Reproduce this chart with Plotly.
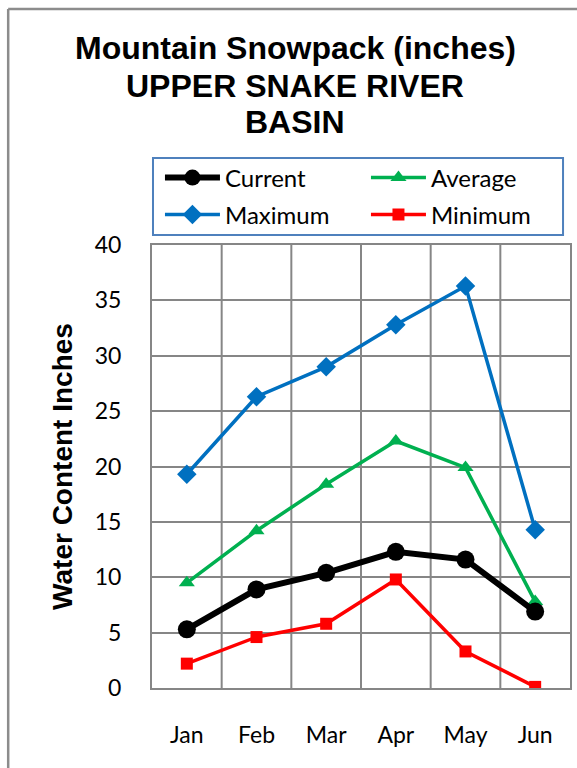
import plotly.graph_objects as go

# Monthly snowpack water content (inches), Upper Snake River Basin
months = ["Jan", "Feb", "Mar", "Apr", "May", "Jun"]
current = [5.3, 8.9, 10.4, 12.3, 11.6, 6.9]
average = [9.5, 14.2, 18.4, 22.3, 19.9, 7.8]
maximum = [19.3, 26.3, 29.0, 32.8, 36.3, 14.3]
minimum = [2.2, 4.6, 5.8, 9.8, 3.3, 0.1]
y_ticks = [0, 5, 10, 15, 20, 25, 30, 35, 40]
title_lines = ["Mountain Snowpack (inches)", "UPPER SNAKE RIVER", "BASIN"]

W, H = 577, 768
L, R, T, B = 152, 5, 245, 80
plot_w = W - L - R
plot_h = H - T - B

def px_x(x):
    return (x - L) / plot_w

def px_y(y):
    return (H - B - y) / plot_h

fig = go.Figure()

fig.add_trace(go.Scatter(
    x=months, y=maximum, name="Maximum", mode="lines+markers",
    line=dict(color="#0070C0", width=3.5),
    marker=dict(symbol="diamond", size=15, color="#0070C0"),
    legend="legend2", legendrank=1,
))
fig.add_trace(go.Scatter(
    x=months, y=average, name="Average", mode="lines+markers",
    line=dict(color="#00B050", width=3.5),
    marker=dict(symbol="triangle-up", size=14, color="#00B050"),
    legend="legend", legendrank=2,
))
fig.add_trace(go.Scatter(
    x=months, y=minimum, name="Minimum", mode="lines+markers",
    line=dict(color="#FF0000", width=3.5),
    marker=dict(symbol="square", size=12, color="#FF0000"),
    legend="legend2", legendrank=2,
))
fig.add_trace(go.Scatter(
    x=months, y=current, name="Current", mode="lines+markers",
    line=dict(color="#000000", width=6),
    marker=dict(symbol="circle", size=18, color="#000000"),
    legend="legend", legendrank=1,
))

grid = "#868686"
legend_style = dict(
    orientation="h", xanchor="left", yanchor="middle",
    xref="paper", yref="paper",
    entrywidth=136, entrywidthmode="pixels",
    borderwidth=0, bgcolor="rgba(0,0,0,0)",
    font=dict(family="Lato, Calibri, sans-serif", size=24),
    itemwidth=55, traceorder="normal",
)
fig.update_layout(
    width=W, height=H,
    margin=dict(l=L, r=R, t=T, b=B),
    paper_bgcolor="white", plot_bgcolor="white",
    font=dict(family="Lato, Calibri, sans-serif", size=23, color="black"),
    showlegend=True,
    legend=dict(legend_style, x=px_x(160), y=px_y(178)),
    legend2=dict(legend_style, x=px_x(160), y=px_y(215)),
    xaxis=dict(
        type="category", range=[-0.5, 5.5],
        showgrid=False,
        showline=True, linecolor=grid, linewidth=2, mirror=True,
        ticks="", ticklabelstandoff=25,
        tickfont=dict(size=23),
    ),
    yaxis=dict(
        range=[0, 40], tickvals=y_ticks,
        showgrid=True, gridcolor=grid, gridwidth=2,
        showline=True, linecolor=grid, linewidth=2, mirror=True,
        zeroline=False,
        ticks="", ticklabelstandoff=24,
        tickfont=dict(size=23),
        title=dict(
            text="Water Content Inches", standoff=14,
            font=dict(family="Liberation Sans, Arial", size=28, weight="bold"),
        ),
    ),
)

# legend frame around both legend rows
fig.add_shape(type="rect", xref="paper", yref="paper",
              x0=px_x(153), x1=px_x(565), y0=px_y(158), y1=px_y(235),
              line=dict(color="#4F81BD", width=2), fillcolor="white",
              layer="below")

# three-line chart heading
for text, yc in zip(title_lines, [48, 86, 122]):
    fig.add_annotation(
        text=text, xref="paper", yref="paper",
        x=px_x(296), y=px_y(yc), xanchor="center", yanchor="middle",
        showarrow=False,
        font=dict(family="Liberation Sans, Arial", size=32, color="black", weight="bold"),
    )

# vertical category separators
for i in range(1, len(months)):
    fig.add_shape(
        type="line", xref="x", yref="paper",
        x0=i - 0.5, x1=i - 0.5, y0=0, y1=1,
        line=dict(color=grid, width=2), layer="below",
    )

# outer chart frame (left and top edges)
fig.add_shape(type="line", xref="paper", yref="paper",
              x0=px_x(7.5), x1=px_x(7.5), y0=px_y(9), y1=px_y(H + 5),
              line=dict(color="#8C8C8C", width=2.5))
fig.add_shape(type="line", xref="paper", yref="paper",
              x0=px_x(7.5), x1=px_x(W + 5), y0=px_y(9), y1=px_y(9),
              line=dict(color="#8C8C8C", width=2.5))

fig.write_html("out.html")
